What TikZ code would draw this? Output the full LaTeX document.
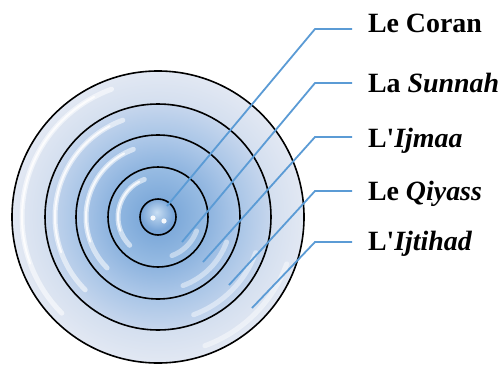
\documentclass[tikz,border=0pt]{standalone}
\usepackage{fontspec}
\setmainfont{Liberation Serif}
\usetikzlibrary{calc,positioning}

\definecolor{tgt0}{RGB}{112,160,213}
\definecolor{tgt1}{RGB}{152,188,227}
\definecolor{tgt2}{RGB}{142,180,223}
\definecolor{tgt3}{RGB}{175,201,233}
\definecolor{tgt4}{RGB}{170,198,231}
\definecolor{tgt5}{RGB}{198,214,237}
\definecolor{tgt6}{RGB}{212,223,239}
\definecolor{tgt7}{RGB}{226,232,243}
\definecolor{coreA}{RGB}{200,222,243}
\definecolor{coreB}{RGB}{122,166,216}
\definecolor{leadblue}{RGB}{91,155,213}

\pgfdeclareradialshading{target}{\pgfpointorigin}{%
  color(0bp)=(tgt0); color(8.5bp)=(tgt1); color(8.6bp)=(tgt2);
  color(14bp)=(tgt3); color(14.1bp)=(tgt4); color(19.3bp)=(tgt5);
  color(19.4bp)=(tgt6); color(25bp)=(tgt7); color(50bp)=(tgt7)}
\pgfdeclareradialshading{core}{\pgfpoint{-2bp}{7bp}}{%
  color(0bp)=(coreA); color(22bp)=(coreB); color(50bp)=(coreB)}

\begin{document}
\begin{tikzpicture}[x=1bp, y=1bp]
  \tikzset{
    ring/.style={draw=black, line width=1.6bp},
    gloss/.style={draw=white, line width=5bp, line cap=round, opacity=0.55},
    leader/.style={draw=leadblue, line width=1.8bp},
    lbl/.style={anchor=base west, inner sep=0pt, outer sep=0pt,
      outer xsep=16bp, font=\fontsize{28}{32}\selectfont\bfseries},
  }
  \useasboundingbox (0,0) rectangle (504,366);

  \coordinate (ctr) at (158,149);

  % the target
  \shade[shading=target] (ctr) circle[radius=146];
  \foreach \r in {146,113,82,50} {
    \draw[gloss] (ctr) ++(110:{\r-10}) arc[start angle=110, end angle=225, radius={\r-10}];
    \draw[gloss, line width=2bp, opacity=0.8] (ctr) ++(118:{\r-10}) arc[start angle=118, end angle=200, radius={\r-10}];
    \draw[gloss, opacity=0.45] (ctr) ++(-20:{\r-9}) arc[start angle=-20, end angle=-70, radius={\r-9}];
  }
  \foreach \r in {146,113,82,50} {
    \draw[ring] (ctr) circle[radius=\r];
  }
  \shade[shading=core] (ctr) circle[radius=18];
  \draw[ring] (ctr) circle[radius=18];
  \fill[white, opacity=0.9] ($(ctr)+(-5,-1)$) circle[radius=2.6];
  \fill[white, opacity=0.9] ($(ctr)+(6,-4)$) circle[radius=2.6];

  % labels
  \node[lbl] (coran)   at (352,334) {Le Coran};
  \node[lbl] (sunnah)  at (352,274) {La \textit{Sunnah}};
  \node[lbl] (ijmaa)   at (352,219) {L\textquotesingle\textit{Ijmaa}};
  \node[lbl] (qiyass)  at (352,166) {Le \textit{Qiyass}};
  \node[lbl] (ijtihad) at (352,116) {L\textquotesingle\textit{Ijtihad}};

  % leader lines
  \foreach \n/\ex/\ey/\ky in {coran/167/160/337, sunnah/182/124/283,
      ijmaa/203/104/229, qiyass/229/81/175, ijtihad/252/58/124} {
    \coordinate (\n-e) at (\ex,\ey);
    \coordinate (\n-k) at (315,\ky);
    \draw[leader] (\n-e) -- (\n-k) -- (\n-k -| \n.west);
  }
\end{tikzpicture}
\end{document}
